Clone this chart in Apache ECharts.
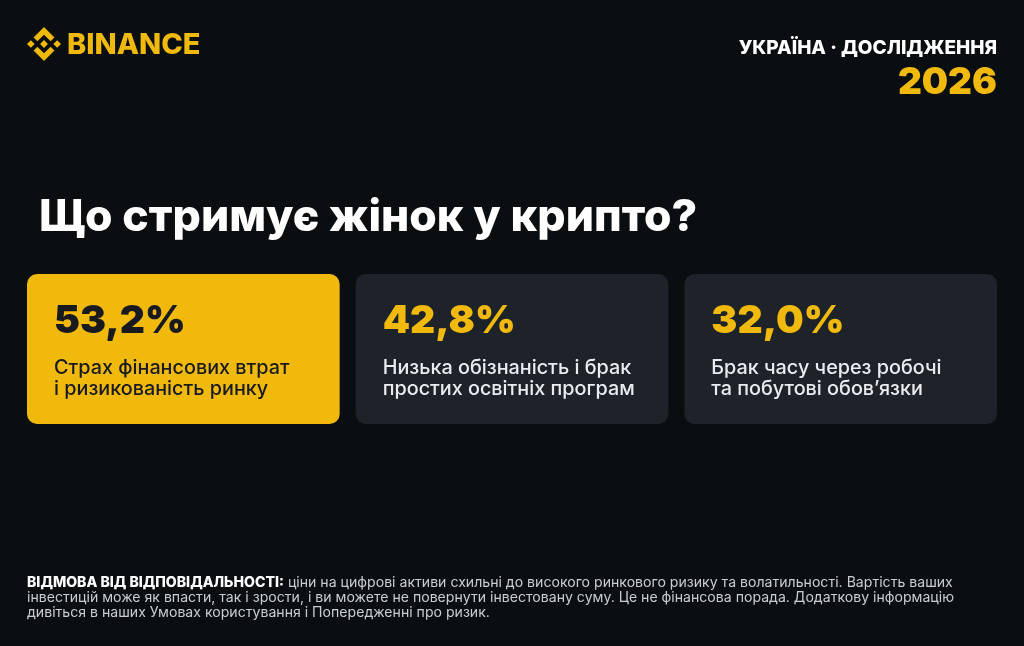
<!DOCTYPE html>
<html><head><meta charset="utf-8">
<script src="https://cdn.jsdelivr.net/npm/echarts@6/dist/echarts.min.js"></script>
<style>html,body{margin:0;padding:0;background:#0b0e11}#c{width:1024px;height:646px}</style>
</head><body><div id="c"></div>
<script>
const brand = 'BINANCE';
const headerTag = 'УКРАЇНА · ДОСЛІДЖЕННЯ';
const headerYear = '2026';
const title = 'Що стримує жінок у крипто?';
const categories = [
  'Страх фінансових втрат\nі ризикованість ринку',
  'Низька обізнаність і брак\nпростих освітніх програм',
  'Брак часу через робочі\nта побутові обовʼязки'
];
const values = [53.2, 42.8, 32.0];
const disclaimerHead = 'ВІДМОВА ВІД ВІДПОВІДАЛЬНОСТІ:';
const disclaimerLines = [
  ' ціни на цифрові активи схильні до високого ринкового ризику та волатильності. Вартість ваших',
  'інвестицій може як впасти, так і зрости, і ви можете не повернути інвестовану суму. Це не фінансова порада. Додаткову інформацію',
  'дивіться в наших Умовах користування і Попередженні про ризик.'
];

const FONT = 'Inter, "Noto Sans", sans-serif';
const YELLOW = '#F0B90B';
const maxIndex = values.indexOf(Math.max.apply(null, values));
const fmt = v => v.toFixed(1).replace('.', ',') + '%';

const logoShapes = [
  [[38.73,53.2],[63.32,28.62],[87.92,53.22],[102.22,38.91],[63.32,0],[24.43,38.9]],
  [[0,63.31],[14.3,49],[28.61,63.31],[14.3,77.61]],
  [[38.73,73.41],[63.32,98],[87.92,73.4],[102.23,87.69],[63.33,126.6],[24.42,87.72]],
  [[98.04,63.31],[112.34,49],[126.65,63.3],[112.34,77.62]],
  [[77.83,63.3],[63.32,48.78],[48.81,63.28],[63.32,77.78]]
];
const LS = 34 / 126.6, LX = 27, LY = 27;
const logo = logoShapes.map(pts => ({
  type: 'polygon',
  shape: { points: pts.map(p => [LX + p[0] * LS, LY + p[1] * LS]) },
  style: { fill: YELLOW }
}));

const chart = echarts.init(document.getElementById('c'));
chart.setOption({
  backgroundColor: '#0b0e11',
  animation: false,
  grid: { left: 19, right: 19, top: 274, height: 150 },
  xAxis: { type: 'category', data: categories, show: false },
  yAxis: { type: 'value', min: 0, max: 1, show: false },
  graphic: logo.concat([
    { type: 'text', x: 67, y: 45, style: { text: brand, fill: YELLOW, fontSize: 29, fontWeight: 800, fontFamily: FONT, verticalAlign: 'middle' } },
    { type: 'text', x: 997, y: 48, style: { text: headerTag, fill: '#ffffff', fontSize: 19, fontWeight: 800, fontFamily: FONT, align: 'right', verticalAlign: 'middle' } },
    { type: 'text', x: 997, y: 83, style: { text: headerYear, fill: YELLOW, fontSize: 37, fontWeight: 900, fontFamily: FONT, align: 'right', verticalAlign: 'middle' } },
    { type: 'text', x: 39, y: 218, style: { text: title, fill: '#ffffff', fontSize: 44.5, fontWeight: 800, fontFamily: FONT, verticalAlign: 'middle' } },
    { type: 'text', x: 27, y: 575, style: {
      text: '{b|' + disclaimerHead + '}{n|' + disclaimerLines[0] + '}\n{n|' + disclaimerLines[1] + '}\n{n|' + disclaimerLines[2] + '}',
      verticalAlign: 'top',
      rich: {
        b: { fontSize: 14.1, fontWeight: 800, fill: '#ffffff', fontFamily: FONT, lineHeight: 15 },
        n: { fontSize: 14.1, fontWeight: 400, fill: '#c9cdd3', fontFamily: FONT, lineHeight: 15 }
      }
    } }
  ]),
  series: [{
    type: 'custom',
    data: values.map((v, i) => [i, 1, v]),
    renderItem(params, api) {
      const i = api.value(0);
      const top = api.coord([i, 1]);
      const bot = api.coord([i, 0]);
      const band = api.size([1, 0])[0];
      const w = band - 16;
      const x = top[0] - w / 2;
      const y = top[1];
      const h = bot[1] - top[1];
      const hi = params.dataIndex === maxIndex;
      return {
        type: 'group',
        children: [
          { type: 'rect', shape: { x, y, width: w, height: h, r: 10 }, style: { fill: hi ? YELLOW : '#1E2329' } },
          { type: 'text', x: x + 27, y: y + 47, style: { text: fmt(api.value(2)), fill: hi ? '#181A20' : YELLOW, fontSize: 39, fontWeight: 900, fontFamily: FONT, verticalAlign: 'middle' } },
          { type: 'text', x: x + 27, y: y + 105, style: { text: categories[i], fill: hi ? '#181A20' : '#EAECEF', fontSize: 19.8, fontWeight: 500, fontFamily: FONT, lineHeight: 21, verticalAlign: 'middle' } }
        ]
      };
    }
  }]
});
</script></body></html>
